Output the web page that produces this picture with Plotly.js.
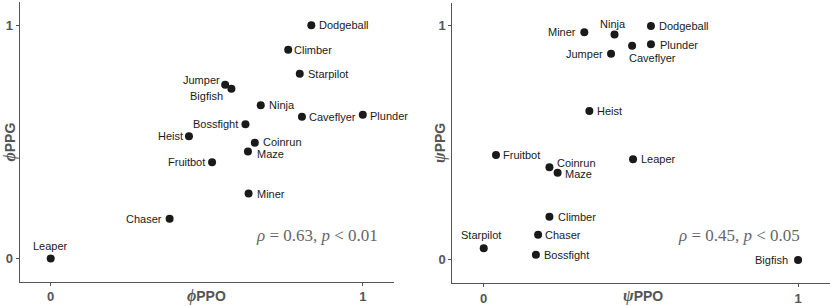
<!DOCTYPE html>
<html>
<head>
<meta charset="utf-8">
<script src="https://cdn.plot.ly/plotly-3.0.1.min.js"></script>
<style>html,body{margin:0;padding:0;background:#fff;}#chart{width:830px;height:306px;}</style>
</head>
<body>
<div id="chart"></div>
<script>
// ---- data ----
const games  = ["Bigfish","Bossfight","Caveflyer","Chaser","Climber","Coinrun","Dodgeball","Fruitbot","Heist","Jumper","Leaper","Maze","Miner","Ninja","Plunder","Starpilot"];
const phiPPO = [0.579,0.624,0.805,0.381,0.761,0.654,0.835,0.517,0.443,0.559,0.000,0.632,0.634,0.673,1.000,0.798];
const phiPPG = [0.728,0.575,0.608,0.170,0.895,0.496,1.000,0.412,0.524,0.745,0.000,0.459,0.278,0.657,0.616,0.792];
const psiPPO = [1.000,0.166,0.472,0.173,0.209,0.209,0.532,0.039,0.336,0.405,0.475,0.235,0.320,0.416,0.532,0.000];
const psiPPG = [0.000,0.022,0.915,0.107,0.184,0.396,1.000,0.448,0.636,0.881,0.430,0.372,0.973,0.963,0.922,0.050];
const tickVals = [0, 1];
const tickLabels = ["0", "1"];
const statsLeft  = "<i>ρ</i> = 0.63, <i>p</i> &lt; 0.01";
const statsRight = "<i>ρ</i> = 0.45, <i>p</i> &lt; 0.05";

// ---- label placement (style only) ----
const placeLeft = {
  Dodgeball:['left',6,0], Climber:['left',4,0], Starpilot:['left',6,0], Jumper:['right',-3,5],
  Bigfish:['right',-6,-7], Ninja:['left',6,0], Caveflyer:['left',5,0], Plunder:['left',5,-1],
  Bossfight:['right',-5,0], Heist:['right',-4,0], Coinrun:['left',6,1], Maze:['left',7,-3],
  Fruitbot:['right',-5,0], Miner:['left',6,0], Chaser:['right',-6,0], Leaper:['center',0,12]
};
const placeRight = {
  Dodgeball:['left',6,0], Ninja:['center',-2,11], Miner:['right',-6,0], Plunder:['left',7,-1],
  Caveflyer:['left',-5,-12], Jumper:['right',-6,0], Heist:['left',6,0], Fruitbot:['left',5,0],
  Leaper:['left',6,0], Coinrun:['left',6,4], Maze:['left',5,-1], Climber:['left',7,0],
  Chaser:['left',5,0], Starpilot:['center',-3,13], Bossfight:['left',6,0], Bigfish:['right',-8,0]
};

const SANS = "Liberation Sans, Arial, Helvetica, sans-serif";
const SERIF = "Liberation Serif, Times New Roman, serif";
const AXC = "#555555";

const marker = {size: 8, color: "#1a1a1a"};
const traces = [
  {type:"scatter", mode:"markers", x: phiPPO, y: phiPPG, xaxis:"x", yaxis:"y", marker, hoverinfo:"text", text: games},
  {type:"scatter", mode:"markers", x: psiPPO, y: psiPPG, xaxis:"x2", yaxis:"y2", marker, hoverinfo:"text", text: games}
];

const annotations = [];
function addLabels(xs, ys, place, xr, yr) {
  games.forEach((g, i) => {
    const p = place[g];
    annotations.push({
      x: xs[i], y: ys[i], xref: xr, yref: yr, text: g, showarrow: false,
      xanchor: p[0], yanchor: "middle", xshift: p[1], yshift: p[2],
      font: {family: SANS, size: 11, color: "#1a1a1a"}
    });
  });
}
addLabels(phiPPO, phiPPG, placeLeft, "x", "y");
addLabels(psiPPO, psiPPG, placeRight, "x2", "y2");

// stats annotations
annotations.push({x: 0.852, y: 0.100, xref:"x", yref:"y", text: statsLeft, showarrow:false,
  xanchor:"center", yanchor:"middle", font:{family: SERIF, size: 17, color:"#666666"}});
annotations.push({x: 0.812, y: 0.105, xref:"x2", yref:"y2", text: statsRight, showarrow:false,
  xanchor:"center", yanchor:"middle", font:{family: SERIF, size: 17, color:"#666666"}});

// axis titles
function sym(s){ return "<span style='font-family:Liberation Serif,serif;font-size:16px'><i>" + s + "</i></span>"; }
const titleFont = {family: SANS, size: 14, color: AXC, weight: "bold"};
annotations.push({x: 206/830, y: 1 - 295.5/306, xref:"paper", yref:"paper", text: sym("ϕ") + "<b>PPO</b>",
  showarrow:false, xanchor:"center", yanchor:"middle", font: titleFont});
annotations.push({x: 643/830, y: 1 - 296/306, xref:"paper", yref:"paper", text: sym("ψ") + "<b>PPO</b>",
  showarrow:false, xanchor:"center", yanchor:"middle", font: titleFont});
annotations.push({x: 9.5/830, y: 1 - 142/306, xref:"paper", yref:"paper", text: sym("ϕ") + "<b>PPG</b>",
  showarrow:false, xanchor:"center", yanchor:"middle", textangle:-90, font: titleFont});
annotations.push({x: 440/830, y: 1 - 143/306, xref:"paper", yref:"paper", text: sym("ψ") + "<b>PPG</b>",
  showarrow:false, xanchor:"center", yanchor:"middle", textangle:-90, font: titleFont});

function axis(domain, anchor) {
  return {
    domain, anchor, range: [-0.1, 1.1], showgrid: false, zeroline: false,
    showline: true, linecolor: AXC, linewidth: 1, mirror: false,
    ticks: "outside", ticklen: 3, tickwidth: 1, tickcolor: AXC,
    tickvals: tickVals, ticktext: tickLabels,
    tickfont: {family: SANS, size: 13, color: AXC, weight: "bold"}
  };
}

const layout = {
  width: 830, height: 306,
  margin: {l: 0, r: 0, t: 0, b: 0},
  paper_bgcolor: "#ffffff", plot_bgcolor: "#ffffff",
  showlegend: false,
  xaxis:  axis([19.5/830, 394/830], "y"),
  yaxis:  axis([1 - 281.7/306, 1 - 2/306], "x"),
  xaxis2: axis([452.3/830, 829.5/830], "y2"),
  yaxis2: axis([1 - 283.3/306, 1 - 2.5/306], "x2"),
  annotations
};

Plotly.newPlot("chart", traces, layout, {staticPlot: true, displayModeBar: false});
</script>
</body>
</html>
